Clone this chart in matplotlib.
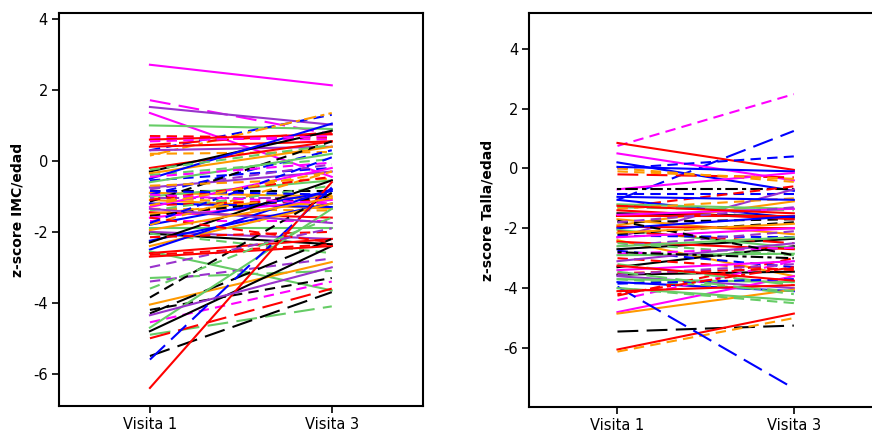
import matplotlib
matplotlib.use("Agg")
import matplotlib.pyplot as plt

# z-score IMC/edad: visita 1 y visita 3 (una linea por niño)
imc_v1 = [2.71, 1.71, 1.52, 1.35, 1.00, 0.30, 0.15, 0.70, 0.65, 0.60,
          0.45, 0.40, 0.30, 0.20, -0.20, -0.30, -0.35, -0.40, -0.50, -0.55,
          -0.75, -0.80, -0.85, -0.90, -0.95, -1.00, -1.05, -1.05, -1.10, -1.15,
          -1.20, -1.25, -1.30, -1.35, -1.40, -1.45, -1.50, -1.55, -1.60, -1.70,
          -1.80, -1.80, -1.90, -2.00, -2.05, -2.05, -2.25, -2.30, -2.40, -2.50,
          -2.55, -2.60, -2.65, -3.30, -3.40, -3.85, -4.05, -4.20, -4.30, -4.55,
          -4.70, -4.80, -4.90, -5.00, -5.50, -5.60, -6.40, -0.60, -0.70, -0.45,
          -1.10, -1.35, -1.60, -0.25, -0.85, -1.95, -2.15, -1.75, -3.00, -2.70,
          -0.95, -1.25, 0.55, -3.60, -4.35]
imc_v3 = [2.13, 0.75, 1.02, -0.45, 0.90, 1.30, 1.35, 0.65, 0.60, 0.75,
          0.80, 0.55, 0.40, 0.25, 0.55, 0.85, 0.40, 0.05, 1.05, -0.20,
          -0.30, -0.10, -0.85, -1.00, 0.30, -0.55, -1.25, -1.05, -1.35, 0.55,
          -1.30, -1.10, -0.20, -1.40, -0.70, -1.60, -0.95, -1.00, -1.10, -1.70,
          -0.85, -0.30, -1.90, -2.20, -2.35, -2.60, -1.20, -0.55, -1.20, -0.80,
          -3.65, -2.20, -2.35, -3.10, -2.75, -0.90, -2.85, -3.30, -2.20, -3.40,
          -1.35, -2.40, -4.10, -3.60, -3.70, -0.75, -0.60, 0.20, -0.50, -0.05,
          -0.45, -1.75, -2.30, 0.45, -0.95, -1.05, -2.00, 0.10, -1.90, -2.40,
          -1.20, -0.30, 0.70, -1.60, -3.00]
imc_col = ["m", "m", "p", "m", "g", "b", "o", "r", "m", "r",
           "r", "r", "p", "o", "r", "k", "o", "g", "b", "b",
           "p", "p", "k", "o", "b", "g", "o", "p", "o", "k",
           "b", "r", "m", "o", "g", "r", "o", "k", "m", "m",
           "b", "o", "g", "p", "k", "g", "b", "k", "o", "b",
           "g", "r", "r", "g", "p", "k", "o", "k", "k", "m",
           "g", "k", "g", "r", "k", "b", "r", "g", "o", "m",
           "r", "p", "r", "g", "b", "o", "r", "b", "p", "r",
           "m", "o", "m", "g", "p"]
imc_lty = ["s", "l", "s", "s", "s", "d", "t", "d", "d", "s",
           "l", "s", "s", "d", "s", "s", "s", "d", "s", "d",
           "s", "d", "d", "s", "d", "s", "d", "t", "s", "d",
           "s", "d", "s", "d", "d", "s", "l", "d", "s", "d",
           "s", "d", "s", "s", "s", "d", "s", "s", "s", "s",
           "s", "s", "d", "l", "d", "d", "s", "d", "l", "d",
           "s", "s", "l", "l", "l", "l", "s", "s", "d", "d",
           "d", "s", "d", "d", "d", "s", "d", "d", "d", "s",
           "d", "d", "d", "d", "s"]

# z-score Talla/edad: visita 1 y visita 3
talla_v1 = [0.75, -1.05, 0.85, 0.50, 0.20, 0.00, 0.00, 0.05, -0.20, -0.70,
            -0.70, -0.85, -1.30, -1.05, -2.30, -1.90, -1.30, -1.50, -1.60, -1.80,
            -2.40, -2.70, -3.30, -3.55, -3.60, -3.70, -3.80, -4.25, -4.40, -4.80,
            -4.85, -4.00, -5.45, -6.05, -6.12, -3.95, -1.20, -1.35, -1.40, -1.55,
            -1.70, -1.95, -2.00, -2.05, -2.10, -2.20, -2.25, -2.30, -2.45, -2.50,
            -2.60, -2.75, -2.85, -2.90, -3.00, -3.10, -3.20, -3.40, -3.50, -3.55,
            -3.70, -3.85, -4.00, -4.10, -1.75, -2.80, -0.10, -1.80, -2.15, -3.25,
            -2.60, -0.95, -1.25, -3.45, -4.20]
talla_v3 = [2.48, 1.25, -0.05, -0.40, -0.75, 0.40, -0.45, -0.10, -0.30, -0.15,
            -0.70, -0.85, -0.60, -1.65, -0.70, -1.10, -1.40, -1.60, -1.60, -1.70,
            -3.60, -2.35, -2.60, -3.45, -4.00, -3.80, -4.10, -3.00, -3.10, -3.60,
            -4.05, -4.50, -5.25, -4.85, -5.00, -7.35, -1.35, -1.00, -1.70, -1.35,
            -2.20, -2.00, -1.60, -2.65, -2.50, -1.80, -2.30, -2.00, -2.70, -2.90,
            -2.10, -3.30, -2.65, -2.85, -3.40, -2.50, -3.90, -3.10, -3.35, -3.20,
            -4.10, -3.70, -4.40, -3.90, -2.90, -3.00, -0.35, -1.30, -1.85, -3.75,
            -2.30, -1.05, -1.50, -4.20, -3.30]
talla_col = ["m", "b", "r", "m", "b", "b", "o", "b", "r", "m",
             "k", "b", "r", "b", "p", "o", "g", "k", "r", "k",
             "o", "k", "k", "k", "p", "g", "b", "r", "m", "m",
             "o", "g", "k", "r", "o", "b", "g", "o", "r", "m",
             "o", "r", "b", "g", "r", "k", "b", "m", "r", "g",
             "p", "b", "m", "g", "r", "p", "g", "m", "r", "p",
             "g", "b", "g", "r", "k", "k", "o", "p", "o", "r",
             "g", "b", "r", "g", "r"]
talla_lty = ["d", "l", "s", "s", "s", "d", "d", "s", "l", "s",
             "t", "d", "d", "s", "s", "s", "l", "s", "s", "d",
             "s", "s", "s", "s", "s", "s", "s", "d", "d", "s",
             "s", "d", "l", "s", "d", "l", "s", "d", "s", "s",
             "s", "s", "s", "s", "l", "d", "d", "s", "s", "d",
             "d", "d", "d", "s", "d", "s", "l", "s", "d", "d",
             "d", "d", "s", "s", "d", "t", "d", "d", "s", "s",
             "s", "s", "s", "l", "t"]

xpos = [1, 2]
xlabels = ["Visita 1", "Visita 3"]

colores = {"k": "#000000", "r": "#FF0000", "g": "#66CC66", "b": "#0000FF",
           "o": "#FF9900", "m": "#FF00FF", "p": "#9933CC"}
estilos = {"s": "-", "d": (0, (5, 3)), "l": (0, (10, 4)), "t": (0, (2, 2, 6, 2))}

fig = plt.figure(figsize=(8.72, 4.32), dpi=100)
ax1 = fig.add_axes([59 / 872, 1 - 405.7 / 432, (422.7 - 59) / 872, (405.7 - 13.3) / 432])
ax2 = fig.add_axes([529.3 / 872, 1 - 407.3 / 432, (882 - 529.3) / 872, (407.3 - 13.3) / 432])


def dibujar(ax, v1, v3, col, lty, ylabel, ylim, ancho_px):
    for a, b, c, l in zip(v1, v3, col, lty):
        ax.plot(xpos, [a, b], color=colores[c], linestyle=estilos[l], lw=1.5)
    ax.set_xlim(0.5, 2.5)
    ax.set_ylim(*ylim)
    ax.set_xticks(xpos)
    ax.set_xticklabels(xlabels)
    ax.set_yticks([-6, -4, -2, 0, 2, 4])
    ax.set_yticklabels(["-6", "-4", "-2", "0", "2", "4"])
    ax.tick_params(direction="out", length=5, width=1.2, labelsize=10.5, pad=3)
    for s in ax.spines.values():
        s.set_linewidth(1.5)
    ax.set_ylabel(ylabel, fontsize=10, fontweight="bold")
    ax.yaxis.set_label_coords(-35 / ancho_px, 0.5)


dibujar(ax1, imc_v1, imc_v3, imc_col, imc_lty, "z-score IMC/edad", (-6.90, 4.16), 363.7)
dibujar(ax2, talla_v1, talla_v3, talla_col, talla_lty, "z-score Talla/edad", (-7.98, 5.18), 352.7)

plt.savefig("out.png", dpi=100)
